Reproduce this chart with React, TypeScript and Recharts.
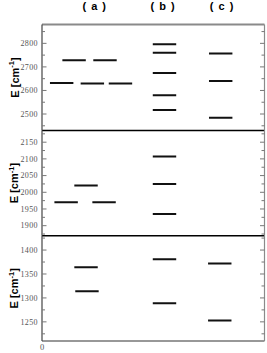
import React from 'react';
import { LineChart, Line, XAxis, YAxis } from 'recharts';

// ---- data ----
const X_DOMAIN: [number, number] = [0, 9.5];
const SEG_WIDTH = 1.0;
const columnCenters = [2.25, 5.17, 7.69];
const columnLabels = ['( a )', '( b )', '( c )'];

// upper panel
const p1Starts = [0.34, 1.65, 2.85, 0.87, 2.19, 4.73, 4.73, 4.73, 4.73, 4.73, 7.13, 7.13, 7.13];
const p1Levels = [2632, 2630, 2630, 2728, 2728, 2796, 2760, 2674, 2580, 2517, 2757, 2640, 2484];
const p1Domain: [number, number] = [2430, 2880];
const p1Ticks = [2450, 2500, 2550, 2600, 2650, 2700, 2750, 2800, 2850];
const p1Major = 100;

// middle panel
const p2Starts = [0.53, 2.15, 1.38, 4.73, 4.73, 4.73];
const p2Levels = [1970, 1970, 2020, 2107, 2025, 1935];
const p2Domain: [number, number] = [1870, 2185];
const p2Ticks = [1875, 1900, 1925, 1950, 1975, 2000, 2025, 2050, 2075, 2100, 2125, 2150, 2175];
const p2Major = 50;

// lower panel
const p3Starts = [1.38, 1.42, 4.73, 4.73, 7.09, 7.09];
const p3Levels = [1364, 1314, 1381, 1289, 1372, 1253];
const p3Domain: [number, number] = [1210, 1430];
const p3Ticks = [1225, 1250, 1275, 1300, 1325, 1350, 1375, 1400, 1425];
const p3Major = 50;

const xTicksBottom = [0];

// ---- styling ----
const W = 267;
const H = 353;
const TINY = 0.01;
const SERIF = 'Liberation Serif';
const SANS = 'Liberation Sans';

const AxisTick = (props: any) => {
  const { x, y, payload, side, majorStep } = props;
  const v = payload.value as number;
  const major = Math.abs(v % majorStep) < 1e-6;
  const len = major ? 4.5 : 3;
  const dir = side === 'left' ? 1 : -1;
  return (
    <g>
      <line x1={x} x2={x + dir * len} y1={y} y2={y} stroke="#777" strokeWidth={1} />
      {side === 'left' && major ? (
        <text
          x={x - 4}
          y={y + 2.8}
          textAnchor="end"
          fontFamily={SERIF}
          fontSize={8}
          letterSpacing={0.4}
          fill="#555"
        >
          {v}
        </text>
      ) : null}
    </g>
  );
};

const YLabel = (props: any) => {
  const vb = props.viewBox || { x: 0, y: 0, width: 0, height: 0 };
  const cx = 18.5;
  const cy = vb.y + vb.height / 2;
  return (
    <text
      x={cx}
      y={cy}
      transform={`rotate(-90, ${cx}, ${cy})`}
      textAnchor="middle"
      fontFamily={SANS}
      fontWeight="bold"
      fontSize={11}
      fill="#000"
    >
      E [cm
      <tspan dy={-4.5} fontSize={7.5}>-1</tspan>
      <tspan dy={4.5}>]</tspan>
    </text>
  );
};

type PanelProps = {
  starts: number[];
  levels: number[];
  domain: [number, number];
  ticks: number[];
  majorStep: number;
  plotTop: number;
  plotBottom: number;
  topBorder?: boolean;
  bottomColor: string;
  bottomWidth: number;
  showZero?: boolean;
};

function Panel(p: PanelProps) {
  const series = p.starts.map((s, i) => [
    { x: s, y: p.levels[i] },
    { x: s + SEG_WIDTH, y: p.levels[i] },
  ]);
  const bottomAxisH = p.showZero ? 12 : TINY;
  const topAxisH = p.topBorder ? TINY : 0;
  return (
    <div style={{ position: 'absolute', left: 0, top: 0, width: W, height: H, pointerEvents: 'none' }}>
      <LineChart
        width={W}
        height={H}
        margin={{
          top: p.plotTop - topAxisH,
          bottom: H - p.plotBottom - bottomAxisH,
          left: 0,
          right: 2.5 - TINY,
        }}
      >
        <XAxis
          xAxisId="b"
          dataKey="x"
          type="number"
          domain={X_DOMAIN}
          allowDataOverflow
          orientation="bottom"
          height={bottomAxisH}
          ticks={p.showZero ? xTicksBottom : []}
          tick={p.showZero ? { fontFamily: SERIF, fontSize: 8.5, fill: '#555' } : false}
          tickLine={false}
          tickSize={0}
          tickMargin={3}
          axisLine={{ stroke: p.bottomColor, strokeWidth: p.bottomWidth }}
          interval={0}
        />
        {p.topBorder ? (
          <XAxis
            xAxisId="t"
            dataKey="x"
            type="number"
            domain={X_DOMAIN}
            allowDataOverflow
            orientation="top"
            height={topAxisH}
            ticks={columnCenters}
            tickFormatter={(v: number) => columnLabels[columnCenters.indexOf(v)] ?? ''}
            tick={{ fontFamily: SANS, fontSize: 11, fontWeight: 'bold', fill: '#000', letterSpacing: 1 }}
            tickLine={false}
            tickSize={0}
            tickMargin={15}
            axisLine={{ stroke: '#8a8a8a', strokeWidth: 2 }}
            interval={0}
          />
        ) : null}
        <YAxis
          yAxisId="l"
          orientation="left"
          type="number"
          domain={p.domain}
          allowDataOverflow
          ticks={p.ticks}
          interval={0}
          width={42}
          tickLine={false}
          tickSize={0}
          tickMargin={0}
          tick={<AxisTick side="left" majorStep={p.majorStep} />}
          axisLine={{ stroke: '#444', strokeWidth: 1.2 }}
          label={<YLabel />}
        />
        <YAxis
          yAxisId="r"
          orientation="right"
          type="number"
          domain={p.domain}
          allowDataOverflow
          ticks={p.ticks}
          interval={0}
          width={TINY}
          tickLine={false}
          tickSize={0}
          tickMargin={0}
          tick={<AxisTick side="right" majorStep={p.majorStep} />}
          axisLine={{ stroke: '#8a8a8a', strokeWidth: 1.2 }}
        />
        {series.map((d, i) => (
          <Line
            key={i}
            data={d}
            xAxisId="b"
            yAxisId="l"
            dataKey="y"
            stroke="#111"
            strokeWidth={2}
            dot={false}
            activeDot={false}
            isAnimationActive={false}
          />
        ))}
      </LineChart>
    </div>
  );
}

export default function App() {
  return (
    <div style={{ position: 'absolute', left: 0, top: 0, width: W, height: H, background: '#fff' }}>
      <Panel
        starts={p1Starts}
        levels={p1Levels}
        domain={p1Domain}
        ticks={p1Ticks}
        majorStep={p1Major}
        plotTop={24.5}
        plotBottom={130.5}
        topBorder
        bottomColor="#000"
        bottomWidth={1.5}
      />
      <Panel
        starts={p2Starts}
        levels={p2Levels}
        domain={p2Domain}
        ticks={p2Ticks}
        majorStep={p2Major}
        plotTop={130.5}
        plotBottom={235.7}
        bottomColor="#000"
        bottomWidth={1.5}
      />
      <Panel
        starts={p3Starts}
        levels={p3Levels}
        domain={p3Domain}
        ticks={p3Ticks}
        majorStep={p3Major}
        plotTop={235.7}
        plotBottom={341}
        bottomColor="#333"
        bottomWidth={1.2}
        showZero
      />
    </div>
  );
}
